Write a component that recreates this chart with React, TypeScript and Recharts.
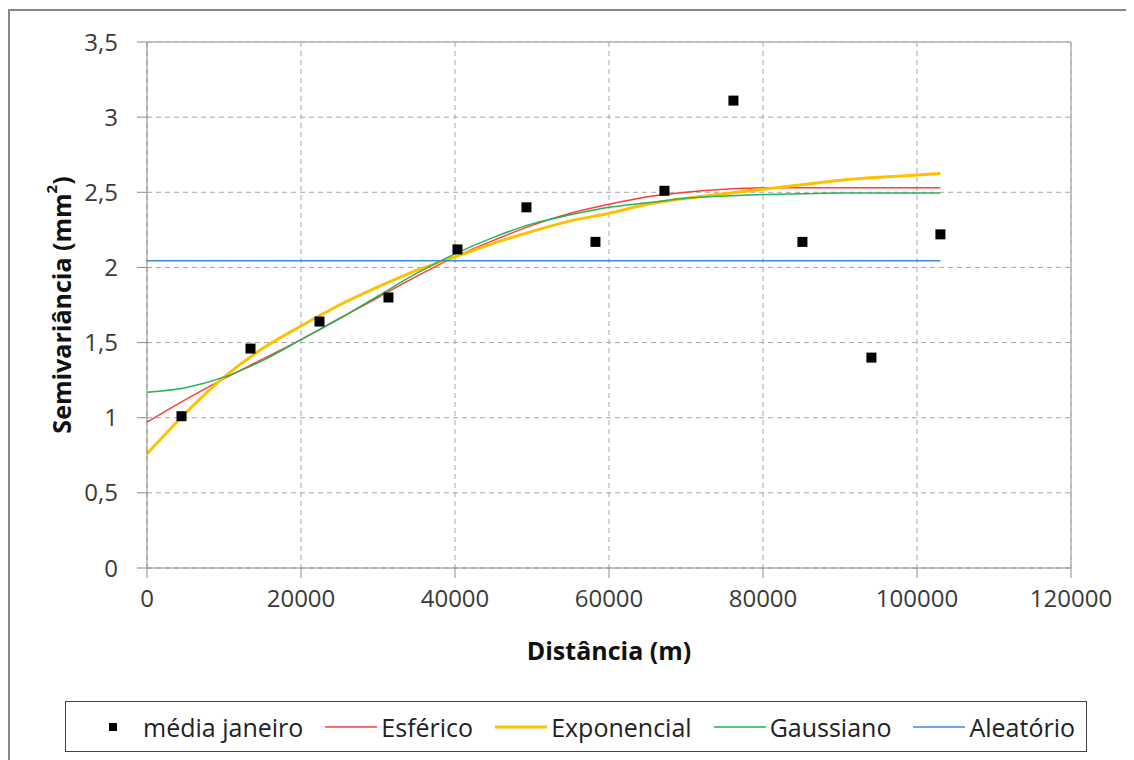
import React from 'react';
import {
  ComposedChart,
  Line,
  Scatter,
  XAxis,
  YAxis,
  CartesianGrid,
  Legend,
  ReferenceLine,
} from 'recharts';

// semivariograma experimental (média janeiro)
const distances = [4480, 13440, 22400, 31360, 40320, 49280, 58240, 67200, 76160, 85120, 94080, 103040];
const mediaJaneiro = [1.01, 1.46, 1.64, 1.8, 2.12, 2.4, 2.17, 2.51, 3.11, 2.17, 1.4, 2.22];

// modelos ajustados
const modelDist = [
  0, 5000, 10000, 15000, 20000, 25000, 30000, 35000, 40000, 45000, 50000,
  55000, 60000, 65000, 70000, 75000, 80000, 85000, 90000, 95000, 100000, 103040,
];
const esferico = [
  0.97, 1.12, 1.26, 1.39, 1.52, 1.66, 1.8, 1.94, 2.07, 2.18, 2.28,
  2.36, 2.42, 2.47, 2.5, 2.52, 2.53, 2.53, 2.53, 2.53, 2.53, 2.53,
];
const exponencial = [
  0.76, 1.03, 1.27, 1.46, 1.61, 1.75, 1.87, 1.98, 2.07, 2.16, 2.24,
  2.31, 2.36, 2.42, 2.46, 2.49, 2.52, 2.55, 2.58, 2.6, 2.615, 2.625,
];
const gaussiano = [
  1.17, 1.2, 1.27, 1.38, 1.52, 1.66, 1.81, 1.96, 2.09, 2.2, 2.29,
  2.35, 2.4, 2.43, 2.46, 2.475, 2.485, 2.49, 2.495, 2.495, 2.495, 2.495,
];
const aleatorioDist = [0, 103040];
const aleatorio = [2.045, 2.045];

const seriesOrder = ['média janeiro', 'Esférico', 'Exponencial', 'Gaussiano', 'Aleatório'];
const xTicks = [0, 20000, 40000, 60000, 80000, 100000, 120000];
const yTicks = [0, 0.5, 1, 1.5, 2, 2.5, 3, 3.5];

const toPoints = (xs: number[], ys: number[]) => xs.map((x, i) => ({ x, y: ys[i] }));

const scatterData = toPoints(distances, mediaJaneiro);
const esfericoData = toPoints(modelDist, esferico);
const exponencialData = toPoints(modelDist, exponencial);
const gaussianoData = toPoints(modelDist, gaussiano);
const aleatorioData = toPoints(aleatorioDist, aleatorio);

const FONT = "'Segoe UI', 'Open Sans', sans-serif";
const AXIS_COLOR = '#8c8c8c';
const TEXT_COLOR = '#3a3a3a';

const SquareDot = (props: any) => {
  const { cx, cy } = props;
  if (cx == null || cy == null) return null;
  return <rect x={cx - 5} y={cy - 5} width={10} height={10} fill="#000" />;
};

const YTitle = (props: any) => {
  const { viewBox } = props;
  const cx = viewBox.x + 41;
  const cy = viewBox.y + viewBox.height / 2;
  return (
    <text
      x={cx}
      y={cy}
      transform={`rotate(-90, ${cx}, ${cy})`}
      textAnchor="middle"
      dominantBaseline="central"
      fontFamily={FONT}
      fontWeight="bold"
      fontSize={25}
      fill="#111"
    >
      Semivariância (mm<tspan baselineShift="super" fontSize={15}>2</tspan>)
    </text>
  );
};

const XTitle = (props: any) => {
  const { viewBox } = props;
  return (
    <text
      x={viewBox.x + viewBox.width / 2}
      y={viewBox.y + 82}
      textAnchor="middle"
      dominantBaseline="central"
      fontFamily={FONT}
      fontWeight="bold"
      fontSize={25}
      fill="#111"
    >
      Distância (m)
    </text>
  );
};

const LegendBox = (props: any) => {
  const payload = [...(props.payload || [])].sort(
    (a: any, b: any) => seriesOrder.indexOf(a.value) - seriesOrder.indexOf(b.value),
  );
  return (
    <div
      style={{
        boxSizing: 'border-box',
        width: '100%',
        height: '100%',
        border: '1.5px solid #444',
        display: 'flex',
        alignItems: 'center',
        paddingLeft: 21,
        fontFamily: FONT,
        fontSize: 25,
        color: '#222',
      }}
    >
      {payload.map((entry: any, i: number) => (
        <div key={i} style={{ display: 'flex', alignItems: 'center', marginRight: 22 }}>
          <svg width={52} height={20}>
            {entry.type === 'square' ? (
              <rect x={22} y={6} width={8} height={8} fill="#000" />
            ) : (
              <line
                x1={0}
                y1={10}
                x2={52}
                y2={10}
                stroke={entry.color}
                strokeWidth={entry.value === 'Exponencial' ? 3 : 1.5}
              />
            )}
          </svg>
          <span style={{ marginLeft: 4, whiteSpace: 'nowrap' }}>{entry.value}</span>
        </div>
      ))}
    </div>
  );
};

export default function App() {
  return (
    <div
      style={{
        marginTop: 1,
        width: 1124,
        height: 749,
        borderLeft: '2px solid #878787',
        borderTop: '2px solid #878787',
        background: '#fff',
      }}
    >
      <ComposedChart width={1124} height={749} margin={{ top: 31, right: 63, left: 10, bottom: 92 }}>
        <CartesianGrid stroke="#a6a6a6" strokeDasharray="5 4" />
        <XAxis
          dataKey="x"
          type="number"
          domain={[0, 120000]}
          ticks={xTicks}
          interval={0}
          height={100}
          tickSize={10}
          tickMargin={12}
          stroke={AXIS_COLOR}
          tick={{ fill: TEXT_COLOR, fontSize: 24, fontFamily: FONT }}
          label={<XTitle />}
        />
        <YAxis
          type="number"
          domain={[0, 3.5]}
          ticks={yTicks}
          interval={0}
          width={127}
          tickSize={10}
          tickMargin={19}
          stroke={AXIS_COLOR}
          tick={{ fill: TEXT_COLOR, fontSize: 24, fontFamily: FONT }}
          tickFormatter={(v: number) => String(v).replace('.', ',')}
          label={<YTitle />}
        />
        <ReferenceLine y={3.5} stroke="#b3b3b3" strokeWidth={1.5} />
        <ReferenceLine x={120000} stroke="#b3b3b3" strokeWidth={1.5} />
        <Scatter
          name="média janeiro"
          data={scatterData}
          dataKey="y"
          fill="#000"
          legendType="square"
          shape={<SquareDot />}
          isAnimationActive={false}
        />
        <Line
          name="Esférico"
          data={esfericoData}
          dataKey="y"
          type="monotone"
          stroke="#ff3b3b"
          strokeWidth={1.5}
          dot={false}
          legendType="line"
          isAnimationActive={false}
        />
        <Line
          name="Exponencial"
          data={exponencialData}
          dataKey="y"
          type="monotone"
          stroke="#ffc000"
          strokeWidth={3}
          dot={false}
          legendType="line"
          isAnimationActive={false}
        />
        <Line
          name="Gaussiano"
          data={gaussianoData}
          dataKey="y"
          type="monotone"
          stroke="#22b358"
          strokeWidth={1.5}
          dot={false}
          legendType="line"
          isAnimationActive={false}
        />
        <Line
          name="Aleatório"
          data={aleatorioData}
          dataKey="y"
          type="linear"
          stroke="#3b8ad4"
          strokeWidth={1.5}
          dot={false}
          legendType="line"
          isAnimationActive={false}
        />
        <Legend
          layout="horizontal"
          verticalAlign="middle"
          content={<LegendBox />}
          wrapperStyle={{ left: 55, top: 690, width: 1022, height: 51 }}
        />
      </ComposedChart>
    </div>
  );
}
